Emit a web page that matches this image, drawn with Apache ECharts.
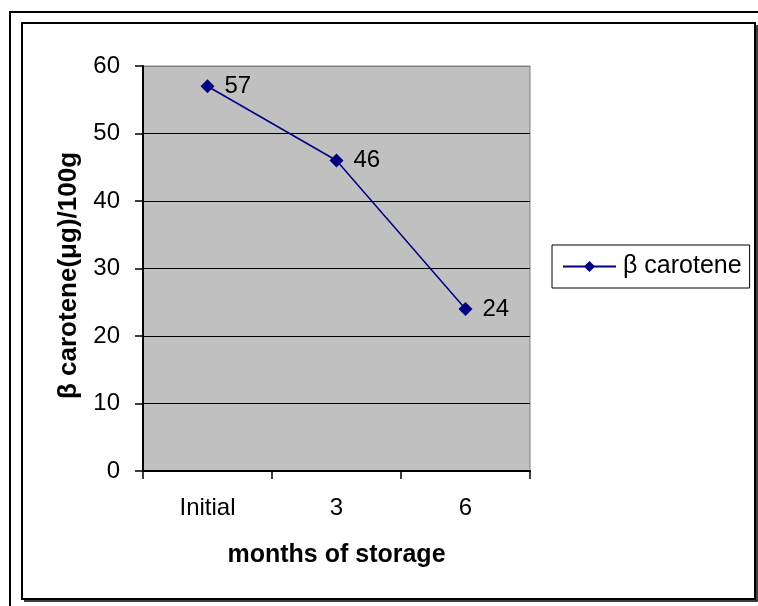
<!DOCTYPE html>
<html>
<head>
<meta charset="utf-8">
<script src="https://cdn.jsdelivr.net/npm/echarts@6/dist/echarts.min.js"></script>
<style>
html,body{margin:0;padding:0;background:#fff;}
#chart{width:758px;height:606px;}
</style>
</head>
<body>
<div id="chart"></div>
<script>
var categories = ['Initial', '3', '6'];
var betaCarotene = [57, 46, 24];
var seriesName = 'β carotene';
var xAxisTitle = 'months of storage';
var yAxisTitle = 'β carotene(μg)/100g';
var yTicks = {min: 0, max: 60, interval: 10};

var FONT = '"Liberation Sans", Arial, sans-serif';
var chart = echarts.init(document.getElementById('chart'), null, {renderer: 'canvas'});
chart.setOption({
  backgroundColor: '#ffffff',
  animation: false,
  textStyle: {fontFamily: FONT, color: '#000'},
  grid: {
    left: 143, top: 66, right: 228, bottom: 135,
    show: true, backgroundColor: '#C0C0C0', borderColor: '#808080', borderWidth: 1,
    containLabel: false, outerBoundsMode: 'none'
  },
  legend: {
    left: 552, top: 245,
    orient: 'vertical',
    data: [seriesName],
    backgroundColor: '#fff',
    borderColor: '#000', borderWidth: 1,
    padding: [9, 8, 9, 10],
    itemWidth: 53, itemHeight: 14,
    textStyle: {fontFamily: FONT, fontSize: 25, color: '#000', padding: [0, 0, 0, 2]}
  },
  xAxis: {
    type: 'category',
    data: categories,
    boundaryGap: true,
    name: xAxisTitle,
    nameLocation: 'middle',
    nameGap: 72,
    nameTextStyle: {fontFamily: FONT, fontSize: 25, fontWeight: 'bold', color: '#000'},
    axisLine: {show: true, lineStyle: {color: '#000', width: 2}},
    axisTick: {show: true, alignWithLabel: false, length: 8, lineStyle: {color: '#000', width: 1.5}},
    axisLabel: {margin: 25, fontSize: 24, color: '#000', fontFamily: FONT},
    splitLine: {show: false}
  },
  yAxis: {
    type: 'value',
    min: yTicks.min, max: yTicks.max, interval: yTicks.interval,
    name: yAxisTitle,
    nameLocation: 'middle',
    nameGap: 61,
    nameRotate: 90,
    nameTextStyle: {fontFamily: FONT, fontSize: 26, fontWeight: 'bold', color: '#000', padding: [0, 14, 0, 0]},
    axisLine: {show: true, lineStyle: {color: '#000', width: 2}},
    axisTick: {show: true, length: 8, lineStyle: {color: '#000', width: 1.5}},
    axisLabel: {margin: 23, fontSize: 24, color: '#000', fontFamily: FONT},
    splitLine: {show: true, lineStyle: {color: ['#000','#000','#000','#000','#000','#000','#808080'], width: 1}}
  },
  series: [{
    name: seriesName,
    type: 'line',
    data: betaCarotene,
    symbol: 'diamond',
    symbolSize: 14,
    showAllSymbol: true,
    lineStyle: {color: '#000080', width: 1.5},
    itemStyle: {color: '#000080'},
    label: {show: true, position: 'right', distance: 10, fontSize: 24, color: '#000', fontFamily: FONT},
    emphasis: {disabled: true}
  }],
  graphic: [
    {type: 'polyline', silent: true, z: 100, shape: {points: [[10, 607], [10, 12], [759, 12]]}, style: {stroke: '#000', lineWidth: 2, fill: null}},
    {type: 'rect', silent: true, z: 100, shape: {x: 22, y: 23, width: 733, height: 576}, style: {stroke: '#000', lineWidth: 2, fill: null}},
    {type: 'polyline', silent: true, z: 100, shape: {points: [[24, 601], [757, 601], [757, 25]]}, style: {stroke: '#000', lineWidth: 1.5, fill: null}}
  ]
});
</script>
</body>
</html>
